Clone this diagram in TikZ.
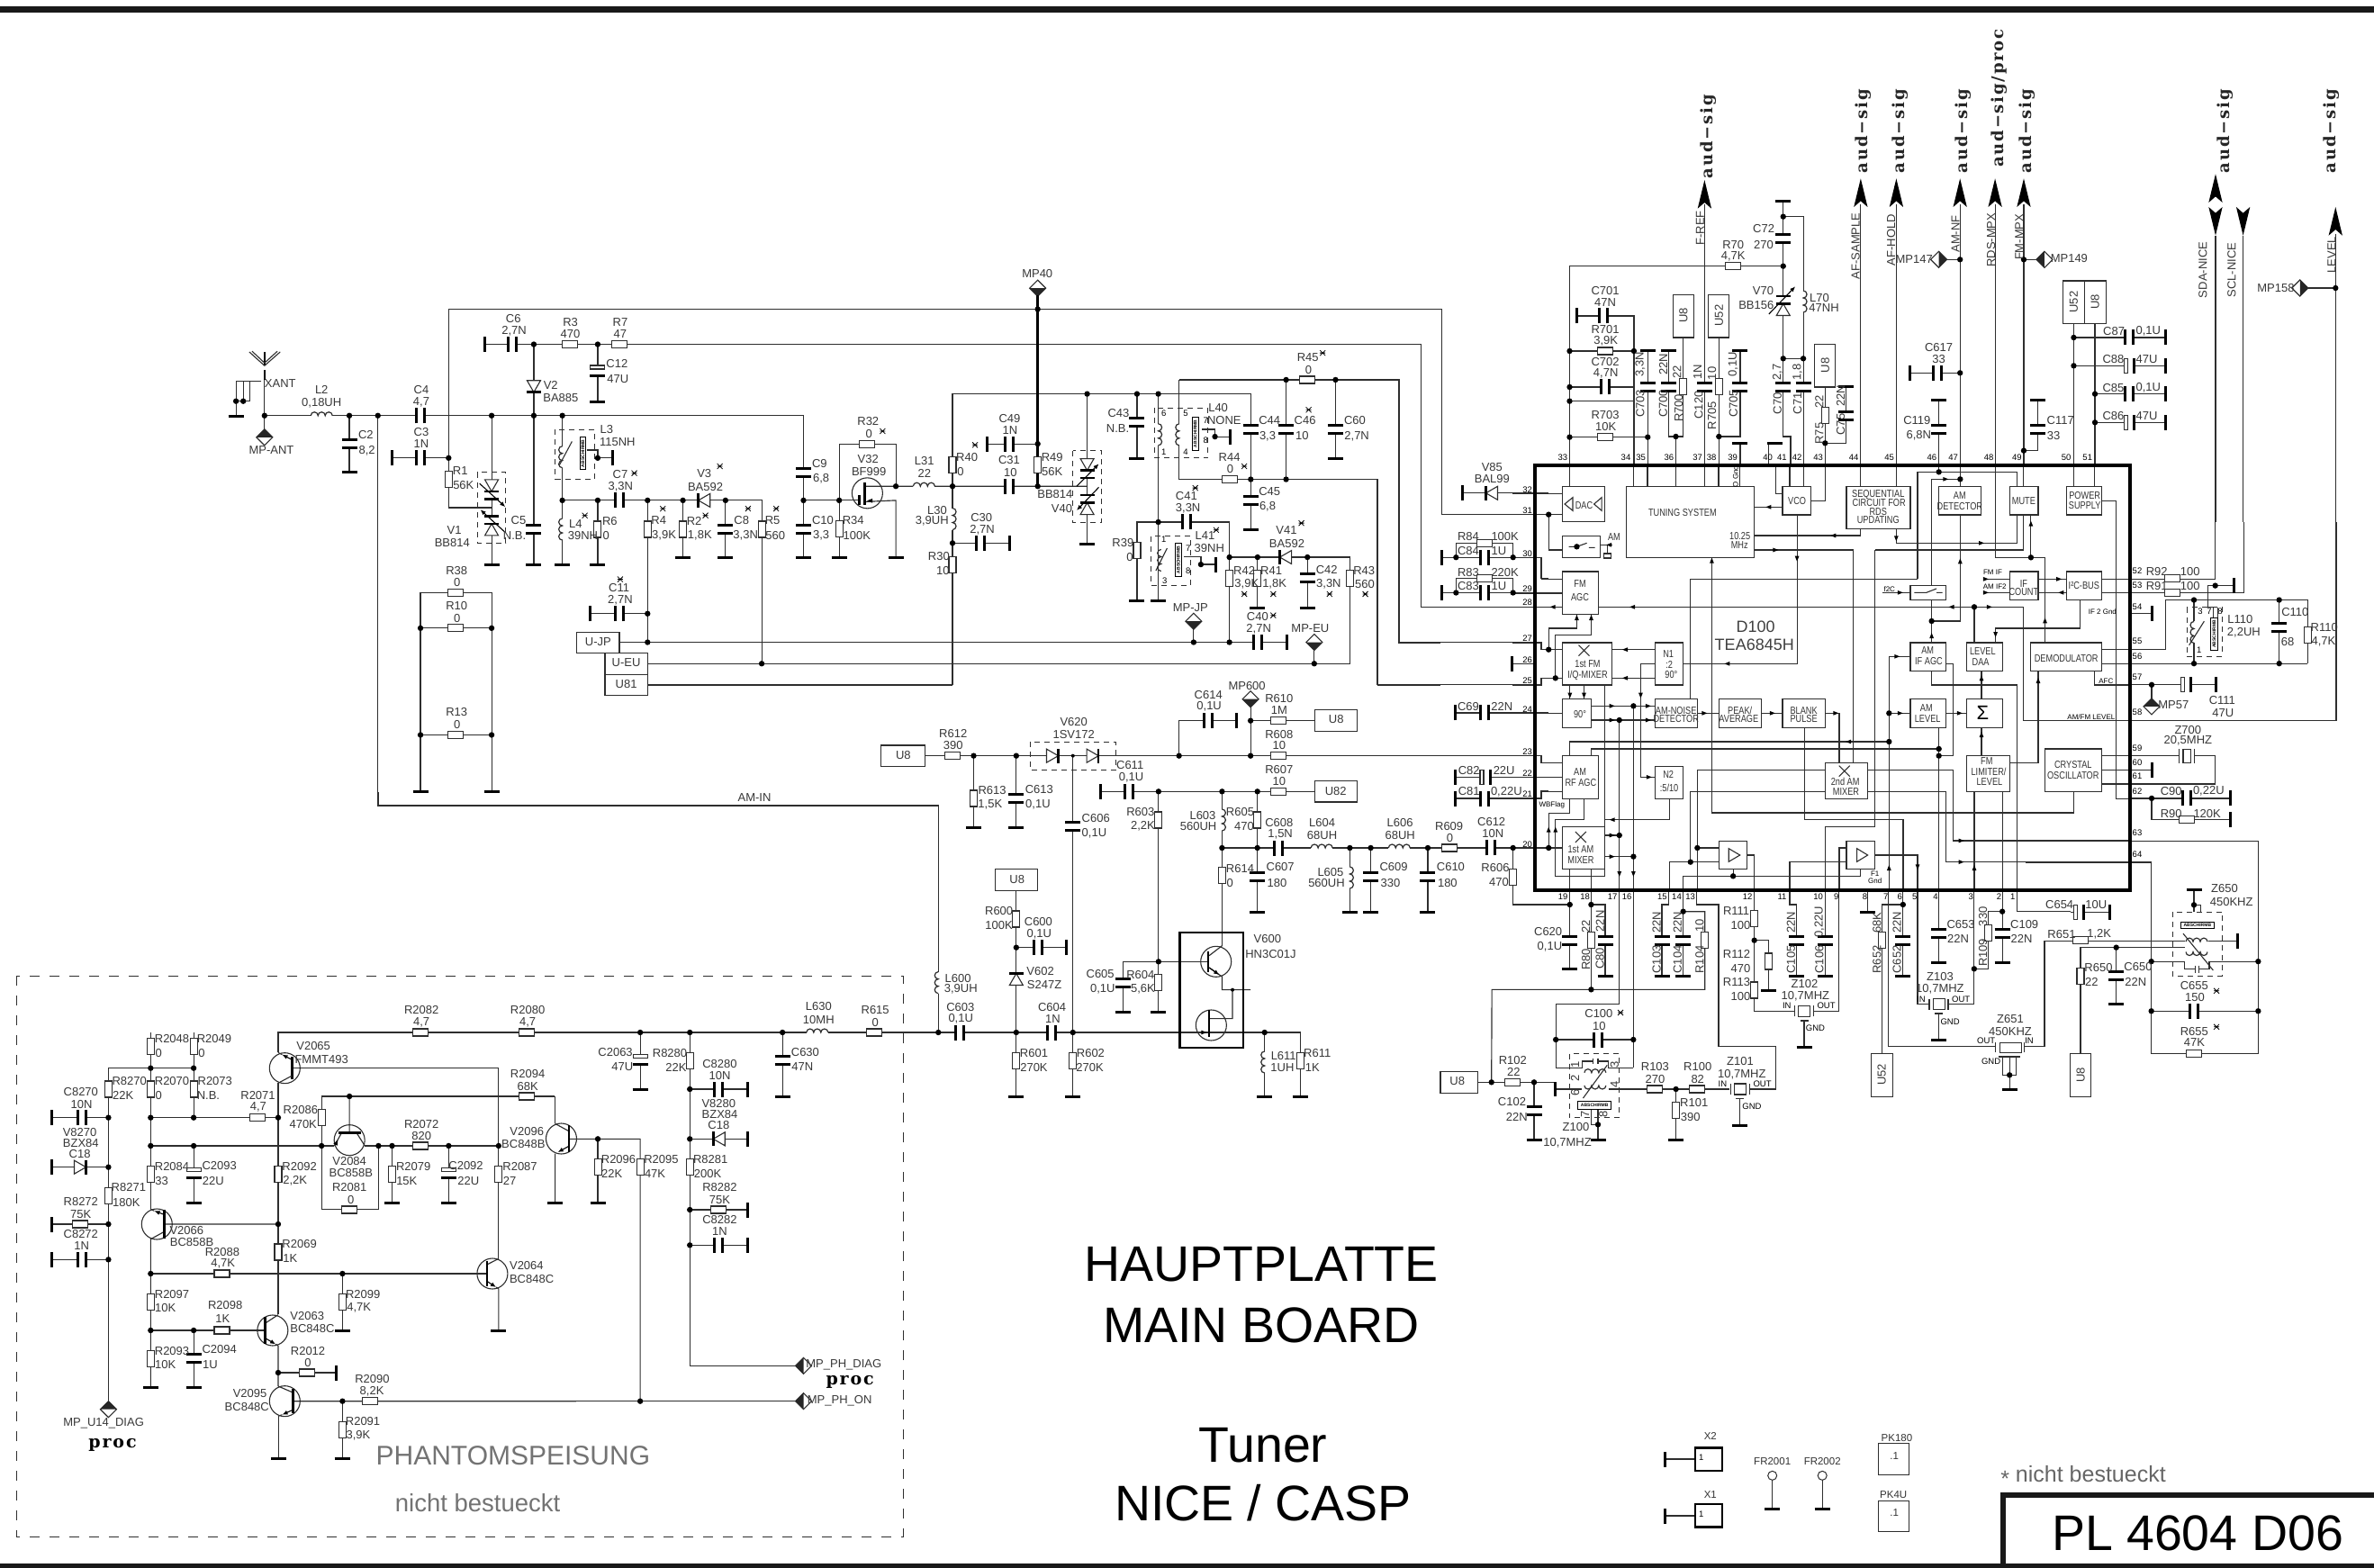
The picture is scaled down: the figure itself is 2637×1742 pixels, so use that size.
\documentclass[tikz,border=0pt]{standalone}
\usepackage{fontspec}
\setmainfont{Liberation Sans}
\newfontfamily\slab[LetterSpace=10]{DejaVu Serif}
\usetikzlibrary{arrows.meta,calc}
\colorlet{ink}{black!82}
\tikzset{
 wire/.style={draw=ink,line width=1.15pt,line join=miter},
 plate/.style={draw=black,line width=3pt},
 part/.style={draw=ink,line width=1.1pt,fill=white},
 dash box/.style={draw=ink,line width=1pt,dash pattern=on 6pt off 5pt},
 lab/.style={inner sep=0pt,font=\fontsize{13}{13}\selectfont,text=black!78},
 labp/.style={inner sep=0pt,font=\fontsize{9.5}{10}\selectfont,text=black},
 labq/.style={inner sep=0pt,font=\fontsize{11.5}{12}\selectfont,text=black!80},
 labb/.style={inner sep=0pt,font=\fontsize{11.5}{12}\selectfont,text=black!80,xscale=.8,transform shape},
 laba/.style={inner sep=0pt,font=\fontsize{8}{8}\selectfont,text=black},
 labs/.style={inner sep=0pt,font=\slab\bfseries\fontsize{18}{18}\selectfont,text=black!85},
 big/.style={inner sep=0pt,font=\fontsize{55.5}{56}\selectfont},
}
\def\PASS{1}
\newcommand\ifw[1]{\ifnum\PASS=1 #1\fi}
\newcommand\ifp[1]{\ifnum\PASS=2 #1\fi}
\newcommand\ift[1]{\ifnum\PASS=3 #1\fi}
\newcommand\wi[1]{\ifw{\draw[wire] #1;}}
\newcommand\tk[1]{\ifp{\draw[black,line width=2.6pt] #1;}}
\newcommand\tn[1]{\ifp{\draw[ink,line width=1.1pt] #1;}}
\newcommand\tx[3]{\ift{\node[lab] at (#1,#2) {#3};}}
\newcommand\txr[3]{\ift{\node[lab,rotate=90] at (#1,#2) {#3};}}
\newcommand\txp[3]{\ift{\node[labp] at (#1,#2) {#3};}}
\newcommand\txq[3]{\ift{\node[labq] at (#1,#2) {#3};}}
\newcommand\txb[3]{\ift{\node[labb] at (#1,#2) {#3};}}
\newcommand\txa[3]{\ift{\node[laba] at (#1,#2) {#3};}}
\newcommand\txs[3]{\ift{\node[labs,rotate=90] at (#1,#2) {#3};}}
\newcommand\dt[2]{\ifp{\fill[black] (#1,#2) circle[radius=3.2pt];}}
\newcommand\rh[2]{\ifp{\begin{scope}[shift={(#1,#2)},x=1pt,y=1pt]\draw[part] (-8.5,-4) rectangle (8.5,4);\end{scope}}}
\newcommand\rv[2]{\ifp{\begin{scope}[shift={(#1,#2)},x=1pt,y=1pt]\draw[part] (-4,-9) rectangle (4,9);\end{scope}}}
\newcommand\cv[2]{\ifp{\begin{scope}[shift={(#1,#2)},x=1pt,y=1pt]\fill[white] (-8,-4.5) rectangle (8,4.5);\draw[plate] (-8.5,4.5)--(8.5,4.5) (-8.5,-4.5)--(8.5,-4.5);\end{scope}}}
\newcommand\ch[2]{\ifp{\begin{scope}[shift={(#1,#2)},x=1pt,y=1pt]\fill[white] (-4.5,-8) rectangle (4.5,8);\draw[plate] (-4.5,-8.5)--(-4.5,8.5) (4.5,-8.5)--(4.5,8.5);\end{scope}}}
\newcommand\ev[2]{\ifp{\begin{scope}[shift={(#1,#2)},x=1pt,y=1pt]\fill[white] (-8,-6) rectangle (8,6);\draw[part] (-8,2) rectangle (8,6);\draw[plate] (-8.5,-5.5)--(8.5,-5.5);\end{scope}}}
\newcommand\eh[2]{\ifp{\begin{scope}[shift={(#1,#2)},x=1pt,y=1pt]\fill[white] (-6,-8) rectangle (6,8);\draw[part] (-6,-8) rectangle (-2,8);\draw[plate] (5.5,-8.5)--(5.5,8.5);\end{scope}}}
\newcommand\gh[2]{\ifp{\begin{scope}[shift={(#1,#2)},x=1pt,y=1pt]\draw[plate] (-8.5,0)--(8.5,0);\end{scope}}}
\newcommand\gv[2]{\ifp{\begin{scope}[shift={(#1,#2)},x=1pt,y=1pt]\draw[plate] (0,-8.5)--(0,8.5);\end{scope}}}
\newcommand\lh[2]{\ifp{\begin{scope}[shift={(#1,#2)},x=1pt,y=1pt]\draw[white,line width=2pt] (-12,0)--(12,0);\draw[ink,line width=1.2pt] (-12,0) arc[start angle=180,end angle=0,radius=4] arc[start angle=180,end angle=0,radius=4] arc[start angle=180,end angle=0,radius=4];\end{scope}}}
\newcommand\lhi[2]{\ifp{\begin{scope}[shift={(#1,#2)},x=1pt,y=1pt]\draw[white,line width=2pt] (-12,0)--(12,0);\draw[ink,line width=1.2pt] (-12,0) arc[start angle=180,end angle=360,radius=4] arc[start angle=180,end angle=360,radius=4] arc[start angle=180,end angle=360,radius=4];\end{scope}}}
\newcommand\lv[2]{\ifp{\begin{scope}[shift={(#1,#2)},x=1pt,y=1pt]\draw[white,line width=2pt] (0,-12)--(0,12);\draw[ink,line width=1.2pt] (0,12) arc[start angle=90,end angle=270,radius=4] arc[start angle=90,end angle=270,radius=4] arc[start angle=90,end angle=270,radius=4];\end{scope}}}
\newcommand\lr[2]{\ifp{\begin{scope}[shift={(#1,#2)},x=1pt,y=1pt]\draw[white,line width=2pt] (0,-12)--(0,12);\draw[ink,line width=1.2pt] (0,12) arc[start angle=90,end angle=-90,radius=4] arc[start angle=90,end angle=-90,radius=4] arc[start angle=90,end angle=-90,radius=4];\end{scope}}}
\newcommand\dd[3]{\ifp{\begin{scope}[shift={(#1,#2)},x=1pt,y=1pt,rotate=#3]\draw[part] (-6.5,-7.5)--(6.5,0)--(-6.5,7.5)--cycle;\draw[black,line width=2.6pt] (6.5,-8)--(6.5,8);\end{scope}}}
\newcommand\vc[3]{\ifp{\begin{scope}[shift={(#1,#2)},x=1pt,y=1pt,rotate=#3]\fill[white] (6,-8) rectangle (15,8);\draw[part] (-6.5,-7.5)--(6.5,0)--(-6.5,7.5)--cycle;\draw[black,line width=2.6pt] (6.5,-8)--(6.5,8) (15,-8)--(15,8);\end{scope}}}
\newcommand\xm[2]{\ifp{\begin{scope}[shift={(#1,#2)},x=1pt,y=1pt]\draw[black,line width=.8pt] (-3,-3)--(3,3) (-3,3)--(3,-3) (-3,0)--(3,0);\end{scope}}}
\newcommand\crs[2]{\ifp{\begin{scope}[shift={(#1,#2)},x=1pt,y=1pt]\draw[ink,line width=1pt] (-6,-6)--(6,6) (-6,6)--(6,-6);\end{scope}}}
\newcommand\arr[3]{\ifp{\begin{scope}[shift={(#1,#2)},x=1pt,y=1pt,rotate=#3]\fill[black] (3,0)--(-3,2.4)--(-3,-2.4)--cycle;\end{scope}}}
\newcommand\dm[3]{\ifp{\begin{scope}[shift={(#1,#2)},x=1pt,y=1pt,rotate=#3]\draw[part] (-9,0)--(0,9)--(9,0)--(0,-9)--cycle;\fill[black!85] (-9,0)--(0,9)--(9,0)--cycle;\end{scope}}}
\newcommand\bx[4]{\ifp{\draw[part] (#1,#2) rectangle (#3,#4);}}
\newcommand\ds[4]{\ifp{\draw[dash box] (#1,#2) rectangle (#3,#4);}}
\newcommand\xt[2]{\ifp{\begin{scope}[shift={(#1,#2)},x=1pt,y=1pt]\draw[part] (-6.5,-6) rectangle (6.5,6);\draw[ink,line width=1.2pt] (-10.5,-6)--(-10.5,6) (10.5,-6)--(10.5,6);\end{scope}}}
\newcommand\qc[2]{\ifp{\begin{scope}[shift={(#1,#2)},x=1pt,y=1pt]\draw[ink,line width=1.1pt] (0,0) circle[radius=17];\end{scope}}}
\newcommand\arw[2]{\ifp{\draw[black,line width=1.1pt,-{Latex[length=6pt,width=5pt]}] #1 -- #2;}}
\newcommand\upa[2]{\ifp{\fill[black] (#1,#2)--(#1+12,#2+95)--(#1,#2+75)--(#1-12,#2+95)--cycle;}}
\newcommand\dna[2]{\ifp{\fill[black] (#1,#2)--(#1+12,#2-95)--(#1,#2-75)--(#1-12,#2-95)--cycle;}}
\newcommand\shv[4]{\ifp{\draw[black,line width=1pt,fill=white] (#1,#2) rectangle (#3,#4);}\ift{\node[inner sep=0pt,font=\fontsize{5}{5}\selectfont\bfseries,rotate=90] at ($0.5*(#1,#2)+0.5*(#3,#4)$) {ABSCHIRMB};}}
\newcommand\shh[4]{\ifp{\draw[black,line width=1pt,fill=white] (#1,#2) rectangle (#3,#4);}\ift{\node[inner sep=0pt,font=\fontsize{5}{5}\selectfont\bfseries] at ($0.5*(#1,#2)+0.5*(#3,#4)$) {ABSCHIRMB};}}

\newcommand\Body{%
\wi{(420,880)--(420,895)--(940,895)}
\tx{838}{886}{AM-IN}
\ifp{\draw[ink,line width=1pt,dash pattern=on 11pt off 11pt] (18,1084) rectangle (1003,1707);}

%================ Z1
\begin{scope}[xshift=230pt,yshift=-280pt,x=.44643pt,y=-.38265pt]
\wi{(143,372)--(143,517) (143,475)--(1484,475)--(1484,721)--(1568,721) (1484,721)--(1484,887)}
\tk{(143,290)--(143,330) (143,342)--(143,372)}
\tn{(105,290)--(143,330)--(182,290) (112,288)--(143,322)--(175,288)}
\wi{(135,375)--(72,375)--(72,477) (90,375)--(90,433) (107,375)--(107,433) (72,433)--(107,433)}
\dt{72}{433}\dt{90}{433}\gh{72}{477}
\tx{182}{382}{XANT}\dt{143}{475}\dm{143}{538}{0}\tx{160}{575}{MP-ANT}
\lh{285}{475}\tx{285}{400}{L2}\tx{285}{438}{0,18UH}
\dt{354}{475}\wi{(354,475)--(354,640)}\cv{354}{557}\gh{354}{640}\tx{395}{530}{C2}\tx{398}{576}{8,2}
\dt{425}{475}\wi{(425,475)--(425,1568)}
\ch{530}{475}\tx{533}{400}{C4}\tx{533}{436}{4,7}
\wi{(460,598)--(601,598)}\gv{460}{598}\ch{530}{598}\dt{601}{598}\tx{533}{523}{C3}\tx{533}{558}{1N}
\wi{(1568,166)--(601,166)--(601,742)--(708,742)}\rv{601}{660}\tx{630}{636}{R1}\tx{638}{678}{56K}
\wi{(708,475)--(708,908)}\dt{708}{475}\gh{708}{908}
\ds{672}{640}{743}{845}
\vc{708}{678}{-90}\vc{708}{806}{90}
\arw{(678,672)}{(742,740)}\arw{(740,812)}{(680,748)}
\tx{615}{808}{V1}\tx{610}{845}{BB814}
\wi{(813,268)--(813,908)}\dt{813}{268}\dt{813}{475}\cv{813}{805}\gh{813}{908}\dd{813}{390}{-90}
\tx{775}{778}{C5}\tx{765}{822}{N.B.}\tx{855}{387}{V2}\tx{880}{424}{BA885}
\wi{(690,268)--(1568,268)}\gv{690}{268}\ch{760}{268}\tx{762}{194}{C6}\tx{764}{229}{2,7N}
\rh{902}{268}\tx{904}{204}{R3}\tx{904}{238}{470}\dt{972}{268}\rh{1025}{268}\tx{1028}{204}{R7}\tx{1028}{238}{47}
\wi{(972,268)--(972,435)}\ev{972}{345}\gh{972}{435}\tx{1020}{325}{C12}\tx{1022}{369}{47U}
\dt{884}{475}\wi{(884,475)--(884,908)}\gh{884}{908}
\ds{866}{516}{964}{660}\lv{884}{595}\tn{(876,620)--(908,550)}
\shv{928}{538}{942}{632}
\wi{(945,575)--(972,575)--(972,598)--(1010,598)}\dt{972}{598}\gv{1010}{598}
\tx{994}{514}{L3}\tx{1021}{552}{115NH}
\lv{884}{805}\tx{917}{790}{L4}\tx{935}{822}{39NH}\xm{940}{765}
\dt{884}{721}\wi{(884,721)--(1380,721)--(1380,1195)}
\ch{1025}{721}\tx{1028}{646}{C7}\tx{1029}{682}{3,3N}\xm{1063}{642}
\dt{972}{721}\wi{(972,721)--(972,908)}\rv{972}{805}\gh{972}{908}\tx{1002}{782}{R6}\tx{993}{822}{0}
\dt{1096}{721}\wi{(1096,721)--(1096,1133)}\rv{1096}{805}\tx{1124}{780}{R4}\tx{1137}{822}{3,9K}\xm{1134}{745}
\dt{1184}{721}\wi{(1184,721)--(1184,887)}\rv{1184}{805}\gh{1184}{887}\tx{1212}{782}{R2}\tx{1226}{822}{1,8K}\xm{1240}{765}
\dd{1237}{721}{180}\tx{1237}{643}{V3}\tx{1240}{682}{BA592}\xm{1276}{622}
\dt{1290}{721}\wi{(1290,721)--(1290,887)}\cv{1290}{805}\gh{1290}{887}\tx{1330}{778}{C8}\tx{1340}{822}{3,3N}\xm{1346}{745}
\rv{1380}{805}\tx{1407}{780}{R5}\tx{1414}{822}{560}\xm{1416}{745}
\dt{1380}{1195}\dt{1484}{721}
\cv{1484}{640}\cv{1484}{805}\gh{1484}{887}\tx{1524}{613}{C9}\tx{1528}{658}{6,8}\tx{1532}{778}{C10}\tx{1528}{822}{3,3}
\wi{(953,1050)--(1096,1050)}\gv{953}{1050}\ch{1025}{1050}\dt{1096}{1050}\tx{1025}{976}{C11}\tx{1028}{1012}{2,7N}\xm{1028}{950}
\bx{919}{1103}{1026}{1165}\tx{973}{1133}{U-JP}\wi{(1026,1133)--(1568,1133)}\dt{1096}{1133}
\bx{990}{1165}{1096}{1227}\tx{1043}{1193}{U-EU}\wi{(1096,1195)--(1568,1195)}
\bx{990}{1227}{1096}{1288}\tx{1043}{1254}{U81}\wi{(1096,1257)--(1568,1257)}
\wi{(531,1567)--(531,990)--(708,990)--(708,1567) (531,1092)--(708,1092) (531,1402)--(708,1402)}
\rh{619}{990}\rh{619}{1092}\rh{619}{1402}\dt{531}{1092}\dt{708}{1092}\dt{531}{1402}\dt{708}{1402}\gh{531}{1567}\gh{708}{1567}
\tx{621}{926}{R38}\tx{622}{960}{0}\tx{621}{1028}{R10}\tx{622}{1063}{0}\tx{621}{1336}{R13}\tx{622}{1371}{0}
\end{scope}

%================ Z2
\begin{scope}[xshift=900pt,yshift=-280pt,x=.44643pt,y=-.38265pt]
\wi{(0,166)--(1568,166)}
\wi{(0,268)--(1520,268)--(1520,1030)--(1568,1030)}
\dm{566}{105}{180}\tx{565}{63}{MP40}\dt{566}{166}\tk{(566,125)--(566,680)}\dt{566}{557}\dt{566}{680}
\rv{566}{618}\tx{602}{596}{R49}\tx{602}{637}{56K}
\wi{(0,721)--(118,721) (72,721)--(72,557)--(213,557)--(213,680) (72,721)--(72,887)}\dt{72}{721}
\rh{142}{557}\tx{144}{492}{R32}\tx{146}{528}{0}\xm{180}{520}\dt{213}{680}
\wi{(136,680)--(690,680) (136,725)--(213,721)--(213,887)}\gh{213}{887}\gh{72}{887}
\qc{142}{700}\tk{(135,670)--(135,735)}\tk{(122,705)--(122,735)}\arr{148}{722}{180}
\tx{144}{600}{V32}\tx{146}{637}{BF999}
\rv{72}{803}\tx{107}{780}{R34}\tx{116}{822}{100K}
\lh{283}{680}\tx{284}{606}{L31}\tx{284}{644}{22}
\dt{354}{680}\wi{(354,1257)--(354,412)--(1096,412)--(1096,805)}
\rv{354}{618}\tx{390}{595}{R40}\tx{374}{637}{0}\xm{410}{560}
\lr{354}{775}\tx{316}{750}{L30}\tx{303}{782}{3,9UH}\dt{354}{845}
\wi{(354,845)--(497,845)}\ch{423}{845}\gv{497}{845}\tx{426}{770}{C30}\tx{428}{806}{2,7N}
\rv{354}{907}\tx{320}{884}{R30}\tx{330}{925}{10}
\wi{(0,1257)--(354,1257)}
\wi{(440,557)--(566,557)}\gv{440}{557}\ch{495}{557}\tx{496}{483}{C49}\tx{497}{517}{1N}
\ch{495}{680}\tx{495}{605}{C31}\tx{498}{640}{10}
\wi{(689,412)--(689,847)}\dt{689}{412}\gh{689}{847}\ds{654}{577}{725}{785}
\vc{689}{617}{-90}\vc{689}{745}{90}
\arw{(663,680)}{(718,615)}\arw{(718,683)}{(663,750)}
\tx{609}{702}{BB814}\tx{626}{745}{V40}
\wi{(813,412)--(813,600)}\dt{813}{412}\cv{813}{495}\gh{813}{600}\tx{767}{468}{C43}\tx{765}{513}{N.B.}
\dt{866}{412}\wi{(866,412)--(866,1012)}\gh{866}{1012}
\ds{857}{453}{990}{598}\lr{866}{530}\wi{(918,371)--(918,660)}\lv{918}{530}
\shv{950}{480}{966}{575}\wi{(975,515)--(1007,515)--(1007,536)--(1044,536)}\dt{1007}{536}\gv{1044}{536}
\txp{880}{468}{6}\txp{934}{468}{5}\txp{984}{490}{7}\txp{984}{548}{8}\txp{880}{580}{1}\txp{934}{580}{4}
\tx{1015}{452}{L40}\tx{1030}{489}{NONE}
\cv{1096}{515}\dt{1096}{660}\tx{1143}{489}{C44}\tx{1138}{534}{3,3}
\wi{(918,660)--(1413,660)--(1413,1257)--(1568,1257)}\rh{1043}{660}\tx{1043}{595}{R44}\tx{1045}{630}{0}\xm{1080}{622}\dt{1184}{660}
\cv{1096}{722}\gh{1096}{805}\tx{1143}{695}{C45}\tx{1138}{740}{6,8}
\wi{(918,371)--(1465,371)--(1465,1134)--(1568,1134)}\dt{1184}{371}\dt{1307}{371}\rh{1237}{371}\tx{1238}{306}{R45}\tx{1240}{342}{0}\xm{1275}{293}
\wi{(1184,371)--(1184,660)}\cv{1184}{515}\tx{1231}{489}{C46}\tx{1224}{534}{10}\xm{1240}{458}
\wi{(1307,371)--(1307,600)}\cv{1307}{515}\gh{1307}{600}\tx{1355}{489}{C60}\tx{1360}{534}{2,7N}
\dt{866}{784}\wi{(813,1012)--(813,784)--(1043,784)--(1043,1133)}\ch{937}{784}\gh{813}{1012}\rv{813}{866}
\tx{778}{844}{R39}\tx{795}{885}{0}\tx{936}{708}{C41}\tx{940}{744}{3,3N}\xm{958}{685}
\ds{848}{825}{946}{968}\lv{873}{895}\tn{(860,925)--(888,860)}
\shv{908}{845}{924}{942}\wi{(930,885)--(972,885)--(972,907)--(1008,907)}\dt{972}{907}\gv{1008}{907}
\txp{880}{835}{1}\txp{940}{860}{7}\txp{940}{925}{8}\txp{882}{955}{3}
\tx{982}{822}{L41}\tx{993}{860}{39NH}\xm{1010}{807}
\dt{1043}{886}\wi{(1043,886)--(1343,886)--(1343,1195)}\dt{1113}{886}
\rv{1043}{947}\wi{(1113,886)--(1113,1033)}\rv{1113}{947}\gh{1113}{1033}
\tx{1080}{925}{R42}\tx{1086}{965}{3,9K}\xm{1080}{993}\tx{1147}{925}{R41}\tx{1155}{965}{1,8K}\xm{1152}{993}
\dd{1183}{886}{180}\tx{1185}{808}{V41}\tx{1186}{846}{BA592}\xm{1222}{787}
\dt{1237}{886}\wi{(1237,886)--(1237,1033)}\cv{1237}{947}\gh{1237}{1033}\tx{1285}{922}{C42}\tx{1290}{965}{3,3N}\xm{1292}{993}
\rv{1343}{947}\tx{1378}{925}{R43}\tx{1380}{965}{560}\xm{1381}{993}
\dm{954}{1072}{180}\wi{(954,1090)--(954,1133)}\dt{954}{1133}\tx{946}{1033}{MP-JP}
\wi{(0,1133)--(1186,1133)}\ch{1113}{1133}\gv{1186}{1133}\dt{1043}{1133}\tx{1113}{1058}{C40}\tx{1116}{1094}{2,7N}\xm{1152}{1055}
\dm{1254}{1133}{180}\wi{(1254,1150)--(1254,1195)}\dt{1254}{1195}\tx{1244}{1093}{MP-EU}
\wi{(0,1195)--(1343,1195)}
\end{scope}

%================ Z11
\begin{scope}[xshift=1530pt,yshift=-300pt,x=.33333pt,y=-.44643pt]
\wi{(0,97)--(215,97)--(215,609)--(570,609)}
\wi{(0,185)--(145,185)--(145,838)--(570,838)}
\wi{(0,273)--(73,273)--(73,927)--(545,927)--(545,945)--(570,945)}
\wi{(0,520)--(0,1032)--(545,1032)--(545,1015)--(570,1015)}
\wi{(282,555)--(570,555)}\gv{282}{555}\dd{381}{555}{180}\tx{382}{490}{V85}\tx{382}{520}{BAL99}
\wi{(213,715)--(452,715)--(545,715)--(545,768)--(570,768) (262,715)--(262,680)--(452,680)--(452,715)}
\gv{213}{715}\dt{262}{715}\dt{452}{715}\ch{357}{715}\rh{357}{680}
\tx{303}{664}{R84}\tx{425}{664}{100K}\tx{303}{698}{C84}\tx{405}{698}{1U}
\wi{(213,803)--(570,803) (262,803)--(262,768)--(452,768)--(452,803)}
\gv{213}{803}\dt{262}{803}\dt{452}{803}\ch{357}{803}\rh{357}{768}
\tx{303}{752}{R83}\tx{425}{752}{220K}\tx{303}{786}{C83}\tx{405}{786}{1U}
\wi{(448,980)--(522,980)}\gv{448}{980}
\wi{(260,1102)--(570,1102)}\gv{260}{1102}\ch{357}{1102}\tx{303}{1087}{C69}\tx{415}{1087}{22N}
\wi{(0,1208)--(545,1208)--(545,1226)--(570,1226)}
\wi{(260,1262)--(570,1262)}\gv{260}{1262}\eh{360}{1262}\tx{305}{1245}{C82}\tx{422}{1245}{22U}
\wi{(260,1315)--(545,1315)--(545,1297)--(570,1297)}\gv{260}{1315}\ch{357}{1315}\tx{305}{1298}{C81}\tx{430}{1298}{0,22U}
\wi{(330,1438)--(570,1438) (452,1438)--(452,1568)}\ch{378}{1438}\dt{452}{1438}\rv{452}{1510}\tx{380}{1373}{C612}\tx{385}{1403}{10N}\tx{393}{1488}{R606}\tx{405}{1523}{470}
\txp{500}{546}{32}\txp{500}{598}{31}\txp{500}{705}{30}\txp{500}{793}{29}\txp{500}{828}{28}\txp{500}{917}{27}\txp{500}{970}{26}\txp{500}{1022}{25}\txp{500}{1094}{24}\txp{500}{1198}{23}\txp{500}{1252}{22}\txp{500}{1305}{21}\txp{500}{1430}{20}
\end{scope}

%================ Z3
\begin{scope}[xshift=1600pt,yshift=0pt,x=.63776pt,y=-.33333pt]
\foreach \xa in {460,732,794,905,966,1016}{\wi{(\xa,680)--(\xa,1553)}}
\upa{460}{600}\upa{732}{595}\upa{794}{595}\upa{905}{595}\upa{966}{595}\upa{1016}{595}
\upa{1350}{580}\dna{1350}{785}\dna{1398}{785}\upa{1559}{690}
\wi{(1350,785)--(1350,1740) (1398,785)--(1398,1740) (1559,780)--(1559,1740)}
\txs{467}{455}{aud−sig}\txs{737}{437}{aud−sig}\txs{800}{437}{aud−sig}\txs{911}{437}{aud−sig}\txs{973}{327}{aud−sig/proc}\txs{1022}{437}{aud−sig}\txs{1366}{437}{aud−sig}\txs{1551}{437}{aud−sig}
\txr{452}{760}{F-REF}\txr{723}{820}{AF-SAMPLE}\txr{785}{800}{AF-HOLD}\txr{897}{780}{AM-NF}\txr{959}{800}{RDS-MPX}\txr{1008}{790}{FM-MPX}\txr{1328}{900}{SDA-NICE}\txr{1378}{900}{SCL-NICE}\txr{1552}{850}{LEVEL}
\dm{868}{865}{-90}\wi{(868,865)--(905,865)}\dt{905}{865}\tx{825}{865}{MP147}
\dm{1052}{865}{90}\wi{(1016,865)--(1052,865)}\dt{1016}{865}\tx{1095}{862}{MP149}
\dm{1497}{960}{-90}\wi{(1497,960)--(1559,960)}\dt{1559}{960}\tx{1455}{960}{MP158}
\wi{(225,1553)--(225,887)--(597,887)}\rh{510}{887}\tx{510}{815}{R70}\tx{510}{855}{4,7K}\dt{597}{887}
\gh{597}{672}\wi{(597,672)--(597,1455)--(610,1455)--(610,1553) (597,722)--(632,722)--(632,1553)}\dt{597}{722}
\cv{597}{794}\tx{563}{763}{C72}\tx{563}{815}{270}
\vc{597}{1032}{90}\arw{(572,1047)}{(618,955)}\tx{562}{968}{V70}\tx{550}{1016}{BB156}
\lr{632}{1005}\tx{660}{992}{L70}\tx{668}{1027}{47NH}
\dt{597}{1195}\dt{632}{1195}\wi{(597,1195)--(632,1195)}
\cv{597}{1290}\cv{632}{1290}\txr{587}{1240}{2,7}\txr{587}{1345}{C70}\txr{622}{1240}{1,8}\txr{622}{1345}{C71}
\gh{583}{1477}\wi{(572,1477)--(572,1553)}
\wi{(485,1553)--(485,1125) (485,1455)--(522,1455)--(522,1170) (522,1477)--(522,1553)}
\bx{466}{982}{503}{1125}\txr{485}{1052}{U52}\dt{485}{1455}\rv{485}{1288}\cv{522}{1290}\gh{522}{1170}\gh{522}{1477}
\txr{473}{1245}{10}\txr{473}{1385}{R705}\txr{510}{1215}{0,1U}\txr{510}{1345}{C705}
\bx{405}{982}{441}{1125}\txr{423}{1052}{U8}\wi{(423,1125)--(423,1455)--(398,1455)--(398,1170) (410,1455)--(410,1553)}\dt{410}{1455}
\rv{423}{1288}\cv{398}{1290}\gh{398}{1170}\txr{388}{1215}{22N}\txr{388}{1345}{C700}\txr{412}{1240}{22}\txr{415}{1360}{R700}
\wi{(361,1170)--(361,1553)}\gh{361}{1170}\cv{361}{1290}\dt{361}{1457}\txr{348}{1215}{3,3N}\txr{348}{1345}{C703}
\cv{460}{1290}\txr{448}{1240}{1N}\txr{450}{1350}{C120}
\wi{(237,1053)--(337,1053)--(337,1553)}\gv{237}{1053}\ch{283}{1053}\tx{287}{968}{C701}\tx{287}{1008}{47N}
\wi{(225,1170)--(337,1170)}\dt{225}{1170}\dt{337}{1170}\rh{287}{1170}\tx{287}{1097}{R701}\tx{288}{1137}{3,9K}
\wi{(225,1290)--(337,1290)}\dt{225}{1290}\ch{287}{1290}\tx{287}{1205}{C702}\tx{288}{1245}{4,7N}
\wi{(225,1337)--(337,1337)}\dt{225}{1337}
\wi{(225,1457)--(361,1457)}\dt{225}{1457}\rh{287}{1457}\tx{287}{1382}{R703}\tx{288}{1422}{10K}
\wi{(670,1553)--(670,1290) (670,1477)--(707,1477)--(707,1290)}\bx{652}{1148}{688}{1290}\txr{670}{1218}{U8}
\rv{670}{1385}\dt{670}{1477}\cv{707}{1385}\gh{707}{1290}\txr{660}{1340}{22}\txr{660}{1445}{R75}\txr{697}{1320}{22N}\txr{697}{1415}{C75}
\dt{905}{1243}\wi{(817,1243)--(905,1243)}\gv{817}{1243}\ch{866}{1243}\tx{868}{1157}{C617}\tx{868}{1197}{33}
\wi{(868,1335)--(868,1553)}\gh{868}{1335}\cv{868}{1432}\tx{830}{1402}{C119}\tx{833}{1452}{6,8N}
\wi{(1040,1335)--(1040,1502)--(1016,1502)}\gh{1040}{1335}\dt{1016}{1502}\cv{1040}{1432}\tx{1080}{1402}{C117}\tx{1068}{1452}{33}
\bx{1084}{936}{1122}{1078}\bx{1122}{936}{1159}{1078}\txr{1103}{1007}{U52}\txr{1140}{1007}{U8}
\wi{(1103,1078)--(1103,1553) (1140,1078)--(1140,1553)}\dt{1103}{1125}\dt{1103}{1219}\dt{1140}{1313}\dt{1140}{1408}
\wi{(1103,1125)--(1263,1125)}\ch{1200}{1125}\gv{1263}{1125}\tx{1173}{1103}{C87}\tx{1233}{1103}{0,1U}
\wi{(1103,1219)--(1263,1219)}\eh{1200}{1219}\gv{1263}{1219}\tx{1172}{1197}{C88}\tx{1230}{1197}{47U}
\wi{(1140,1313)--(1263,1313)}\ch{1200}{1313}\gv{1263}{1313}\tx{1172}{1292}{C85}\tx{1233}{1292}{0,1U}
\wi{(1140,1408)--(1263,1408)}\eh{1200}{1408}\gv{1263}{1408}\tx{1172}{1385}{C86}\tx{1230}{1385}{47U}
\txp{213}{1525}{33}\txp{323}{1525}{34}\txp{349}{1525}{35}\txp{398}{1525}{36}\txp{448}{1525}{37}\txp{472}{1525}{38}\txp{509}{1525}{39}\txp{570}{1525}{40}\txp{595}{1525}{41}\txp{621}{1525}{42}\txp{658}{1525}{43}\txp{720}{1525}{44}\txp{782}{1525}{45}\txp{856}{1525}{46}\txp{893}{1525}{47}\txp{955}{1525}{48}\txp{1004}{1525}{49}\txp{1090}{1525}{50}\txp{1127}{1525}{51}
\end{scope}

%================ Z4 IC
\begin{scope}[xshift=1680pt,yshift=-500pt,x=.44643pt,y=-.33333pt]
\ifp{\draw[black,line width=4pt] (56,52) rectangle (1537,1467);}
\foreach \xa in {143,301,336,407,478,513,566,690,725,866,955,1114,1272,1396,1449}{\wi{(\xa,52)--(\xa,122)}}
\wi{(655,52)--(655,145)--(672,145) (778,52)--(778,169)--(743,169) (1061,52)--(1061,73)}
\wi{(1202,52)--(1202,358)--(1325,358)--(1325,642) (1290,358)--(1290,216)}\dt{1290}{358}\arr{1290}{245}{90}\arr{1325}{568}{90}
\wi{(1008,430)--(1008,73)--(1255,73)--(1255,310)--(955,310)--(955,263)}\dt{1061}{73}\arr{955}{295}{-90}\arr{1167}{310}{0}
\wi{(1008,430)--(443,430)--(443,830)}
\wi{(1043,452)--(1043,97)--(1114,97)}\dt{1114}{97}\arr{1078}{97}{0}
\wi{(1043,500)--(1043,642) (1043,570)--(1114,570)--(1114,216)}\dt{1043}{570}\arr{1114}{370}{90}\arr{1043}{618}{90}
\wi{(602,285)--(866,285)--(866,263)}\arr{798}{285}{180}
\wi{(602,333)--(848,333)--(848,1043)}\arr{655}{333}{0}
\wi{(672,190)--(602,190)}\arr{637}{190}{180}
\wi{(708,216)--(708,712)--(425,712)}\arr{708}{362}{-90}\arr{534}{712}{180}
\wi{(496,358)--(496,1209)--(1396,1209)--(1396,1138)}\arr{496}{368}{90}
\wi{(902,333)--(1272,333)--(1272,216) (902,333)--(902,1255)--(778,1255)--(778,1467)}
\wi{(390,1162)--(390,1232)--(230,1232)}\arr{248}{1232}{180}
\wi{(726,925)--(726,1232)--(972,1232)--(972,1467)}
\wi{(1308,430)--(1378,430) (1378,475)--(1308,475) (1175,430)--(1237,430) (1175,475)--(1237,475)}\arr{1360}{430}{0}\arr{1365}{475}{180}\arr{1178}{430}{0}\arr{1178}{475}{0}
\wi{(1413,500)--(1413,594)--(1202,594)--(1202,642)}\arr{1202}{615}{-90}
\wi{(0,523)--(125,523)}\arr{100}{523}{180}
\wi{(213,523)--(1272,523)--(1272,902)--(1537,902)}\arr{298}{523}{180}\arr{1092}{523}{180}\arr{1187}{523}{0}\dt{1149}{523}
\wi{(1149,523)--(1149,642) (920,475)--(990,475)}\arr{965}{475}{0}
\wi{(160,547)--(160,594)--(90,594)--(90,665) (196,547)--(196,617)--(107,617)--(107,760)}\arr{160}{558}{90}\arr{196}{558}{90}
\wi{(0,642)--(72,642)--(72,665)--(125,665) (0,783)--(72,783)--(72,760)--(125,760)}\dt{90}{665}\dt{107}{760}
\wi{(248,665)--(354,665) (248,760)--(354,760)}\arr{280}{665}{180}\arr{280}{760}{180}
\wi{(354,712)--(319,712)--(319,1090)--(354,1090)}\arr{319}{818}{-90}\arr{340}{1090}{0}
\wi{(143,783)--(143,830) (178,783)--(178,830)}\arr{143}{818}{-90}\arr{178}{818}{-90}
\wi{(0,877)--(125,877)}
\wi{(195,853)--(354,853) (195,900)--(354,900) (301,853)--(301,1467) (266,900)--(266,1467)}\dt{301}{853}\dt{266}{900}\dt{266}{1284}\dt{301}{1355}
\arr{248}{853}{0}\arr{338}{853}{0}\arr{248}{900}{0}\arr{338}{900}{0}\arr{266}{1413}{-90}\arr{301}{1413}{-90}
\wi{(230,783)--(230,1420)--(107,1420)--(107,1232)--(178,1232)--(178,1162)}\arr{107}{1265}{90}\arr{90}{1265}{90}
\wi{(143,1162)--(143,1210)--(90,1210)--(90,1326) (0,1326)--(125,1326)}\dt{90}{1326}
\wi{(230,1284)--(266,1284) (230,1355)--(301,1355)}\arr{248}{1284}{0}\arr{248}{1355}{0}
\wi{(143,1397)--(143,1467) (196,1397)--(196,1467)}
\wi{(0,1019)--(72,1019)--(72,1043)--(125,1043) (0,1090)--(125,1090) (0,1162)--(72,1162)--(72,1138)--(125,1138)}
\wi{(143,1019)--(143,972)--(937,972) (196,1019)--(196,996)--(1061,996)}\arr{836}{972}{180}\dt{937}{972}\dt{1061}{996}
\wi{(937,1467)--(937,688)--(990,688) (937,877)--(990,877)}\arr{957}{688}{0}\dt{937}{877}\arr{965}{877}{0}\arr{937}{1392}{90}
\wi{(1078,712)--(1096,712)--(1096,1019)--(1061,1019) (1061,925)--(1061,1467)}\dt{1061}{1019}
\wi{(1043,736)--(1043,783)--(1255,783)--(1255,1540)}
\wi{(1078,877)--(1131,877) (1167,830)--(1167,736) (1167,1019)--(1167,925) (1237,1043)--(1308,1043)--(1308,736)}\arr{1113}{877}{0}\arr{1167}{760}{90}\arr{1167}{948}{90}\arr{1308}{768}{90}
\wi{(1467,665)--(1537,665) (1467,712)--(1537,712) (1449,736)--(1449,783)--(1537,783)}
\wi{(1467,169)--(1502,169)--(1502,1162)--(1537,1162)}
\wi{(1467,1019)--(1537,1019) (1467,1066)--(1537,1066) (1467,1114)--(1537,1114) (1467,430)--(1537,430) (1467,475)--(1537,475)}
\wi{(460,877)--(514,877) (619,877)--(672,877) (778,877)--(813,877)--(813,1043)}\arr{478}{877}{0}\arr{647}{877}{0}\arr{805}{877}{0}
\wi{(778,1066)--(460,1066)--(460,1467) (460,1326)--(514,1326) (778,1138)--(443,1138)--(443,1373)}\dt{460}{1326}\dt{443}{1373}
\wi{(390,1467)--(390,1373)--(514,1373)}
\wi{(884,1066)--(1096,1066)--(1096,1302)--(1537,1302) (884,1138)--(1078,1138)--(1078,1373)--(1537,1373)}\arr{1117}{1302}{0}\arr{1117}{1373}{0}
\wi{(584,1350)--(602,1350)--(602,1467) (549,1397)--(549,1420) (425,1467)--(425,1420)--(866,1420)--(866,1397)}\dt{549}{1420}
\wi{(831,1326)--(813,1326)--(813,1467) (831,1373)--(690,1373)--(690,1467)}
\wi{(902,1350)--(1008,1350)--(1008,1467)}\arr{1008}{1390}{-90}
\wi{(1149,1138)--(1149,1467) (1219,1138)--(1219,1467)}\arr{1149}{1392}{90}
\wi{(0,145)--(125,145) (0,215)--(125,215) (90,215)--(90,333)--(125,333) (0,358)--(72,358)--(72,430)--(125,430) (0,477)--(125,477)}\dt{90}{215}
\bx{125}{122}{230}{238}\bx{125}{287}{218}{358}\bx{125}{405}{213}{547}\bx{125}{642}{248}{783}\bx{125}{830}{195}{925}
\bx{354}{642}{425}{783}\bx{354}{830}{460}{925}\bx{514}{830}{619}{925}\bx{672}{830}{778}{925}
\bx{125}{1019}{213}{1162}\bx{354}{1055}{425}{1162}\bx{125}{1255}{230}{1397}
\bx{283}{122}{602}{358}\bx{672}{122}{743}{216}\bx{831}{122}{990}{263}\bx{1061}{122}{1166}{216}\bx{1237}{122}{1308}{216}\bx{1378}{122}{1467}{216}
\bx{1237}{405}{1308}{500}\bx{1378}{405}{1467}{500}\bx{990}{452}{1078}{500}
\bx{990}{642}{1078}{736}\bx{1131}{642}{1219}{736}\bx{1290}{642}{1467}{736}\bx{990}{830}{1078}{925}\bx{1131}{830}{1219}{925}
\bx{1131}{1019}{1237}{1138}\bx{1325}{996}{1467}{1138}\bx{778}{1043}{884}{1162}\bx{514}{1303}{584}{1397}\bx{831}{1303}{902}{1397}
\tn{(130,180)--(150,158)--(150,202)--cycle (203,180)--(222,158)--(222,202)--cycle}
\txb{178}{185}{DAC}
\tn{(140,322)--(160,322) (160,322)--(185,310) (190,325)--(205,325)}\dt{160}{322}
\tn{(218,316)--(248,316) (237,316)--(237,345)}\arr{240}{316}{180}\bx{228}{345}{245}{360}\txb{253}{290}{AM}
\tn{(1000,475)--(1030,475)--(1055,462) (1055,475)--(1070,475)}
\crs{178}{668}\crs{170}{1290}\crs{826}{1070}
\tn{(538,1328)--(538,1372)--(566,1350)--cycle (857,1328)--(857,1372)--(884,1350)--cycle}
\txb{168}{447}{FM}\txb{168}{490}{AGC}\txb{187}{714}{1st FM}\txb{187}{750}{I/Q-MIXER}
\txb{388}{680}{N1}\txb{390}{716}{:2}\txb{395}{750}{90°}\txb{168}{880}{90°}
\txb{407}{868}{AM-NOISE}\txb{407}{897}{DETECTOR}\txb{566}{868}{PEAK/}\txb{563}{897}{AVERAGE}\txb{725}{868}{BLANK}\txb{725}{897}{PULSE}
\txb{168}{1073}{AM}\txb{170}{1108}{RF AGC}\txb{388}{1080}{N2}\txb{390}{1127}{:5/10}\txb{170}{1330}{1st AM}\txb{170}{1368}{MIXER}
\txb{423}{210}{TUNING SYSTEM}\txb{566}{288}{10.25}\txb{565}{317}{MHz}\txb{708}{171}{VCO}
\txb{910}{148}{SEQUENTIAL}\txb{912}{175}{CIRCUIT FOR}\txb{910}{206}{RDS}\txb{910}{234}{UPDATING}
\txb{1113}{152}{AM}\txb{1113}{188}{DETECTOR}\txb{1272}{171}{MUTE}\txb{1424}{152}{POWER}\txb{1424}{186}{SUPPLY}
\txb{1272}{445}{IF}\txb{1272}{472}{COUNT}\txb{1422}{453}{I²C-BUS}
\txb{1033}{668}{AM}\txb{1036}{703}{IF AGC}\txb{1170}{672}{LEVEL}\txb{1165}{706}{DAA}\txb{1378}{694}{DEMODULATOR}
\txb{1030}{860}{AM}\txb{1033}{897}{LEVEL}\txb{1180}{1037}{FM}\txb{1185}{1072}{LIMITER/}\txb{1187}{1107}{LEVEL}
\txb{1395}{1050}{CRYSTAL}\txb{1395}{1085}{OSCILLATOR}\txb{828}{1105}{2nd AM}\txb{830}{1140}{MIXER}
\ift{\node[inner sep=0pt,font=\fontsize{22}{22}\selectfont] at (1170,877) {Σ};}
\ift{\node[inner sep=0pt,font=\fontsize{18}{18}\selectfont,text=black!75] at (605,590) {D100};}
\ift{\node[inner sep=0pt,font=\fontsize{18}{18}\selectfont,text=black!75] at (602,650) {TEA6845H};}
\txa{1195}{408}{FM IF}\txa{1200}{455}{AM IF2}\txa{938}{465}{f2C}\txa{1468}{538}{IF 2 Gnd}\txa{1477}{771}{AFC}\txa{1440}{890}{AM/FM LEVEL}\txa{98}{1184}{WBFlag}\txa{902}{1412}{F1}\txa{902}{1437}{Gnd}
\ift{\node[laba,rotate=90] at (555,88) {O Gnd};}
\end{scope}

%================ Z7
\begin{scope}[xshift=940pt,yshift=-740pt,x=.44643pt,y=-.33333pt]
\bx{87}{264}{195}{335}\tx{142}{297}{U8}\wi{(195,299)--(1568,299)}
\rh{264}{299}\tx{266}{226}{R612}\tx{266}{265}{390}
\dt{317}{299}\wi{(317,299)--(317,537)}\rv{317}{441}\gh{317}{537}\tx{363}{415}{R613}\tx{358}{462}{1,5K}
\dt{423}{299}\wi{(423,299)--(423,537)}\cv{423}{441}\gh{423}{537}\tx{480}{411}{C613}\tx{477}{462}{0,1U}
\ds{458}{252}{670}{347}\dd{513}{299}{0}\dd{613}{299}{0}\tx{566}{186}{V620}\tx{566}{229}{1SV172}
\wi{(564,299)--(564,1435)}\ifp{\fill[black] (564,299) circle[radius=2pt];}
\cv{564}{535}\tx{621}{506}{C606}\tx{617}{557}{0,1U}\rv{564}{1315}\gh{564}{1435}\dt{564}{1221}\tx{608}{1290}{R602}\tx{606}{1337}{270K}
\wi{(633,418)--(1165,418)}\gv{633}{418}\ch{703}{418}\tx{706}{331}{C611}\tx{709}{372}{0,1U}
\dt{777}{418}\wi{(777,418)--(777,1152)}\rv{777}{513}\gh{777}{1152}\tx{732}{486}{R603}\tx{738}{533}{2,2K}
\dt{777}{985}\wi{(688,1152)--(688,985)--(900,985)}\gh{688}{1152}\cv{688}{1057}\tx{632}{1025}{C605}\tx{638}{1077}{0,1U}\rv{777}{1055}\tx{732}{1029}{R604}\tx{738}{1077}{5,6K}
\dt{828}{299}\wi{(828,299)--(828,182)--(972,182)}\ch{900}{182}\gv{972}{182}\tx{901}{95}{C614}\tx{903}{135}{0,1U}
\dt{1006}{299}\wi{(1006,130)--(1006,299) (1006,182)--(1165,182)}\dt{1006}{182}\rh{1075}{182}\bx{1165}{146}{1271}{217}\tx{1219}{178}{U8}
\dm{1006}{110}{180}\tx{997}{65}{MP600}\tx{1077}{107}{R610}\tx{1077}{147}{1M}
\rh{1075}{299}\tx{1077}{227}{R608}\tx{1077}{265}{10}
\rh{1075}{418}\tx{1077}{344}{R607}\tx{1077}{383}{10}\bx{1165}{382}{1271}{453}\tx{1218}{416}{U82}
\dt{935}{418}\dt{1023}{418}\wi{(935,418)--(935,932) (1023,418)--(1023,820) (935,606)--(1568,606)}
\lr{935}{513}\tx{887}{497}{L603}\tx{876}{533}{560UH}\rv{1023}{513}\tx{980}{486}{R605}\tx{990}{533}{470}
\dt{935}{606}\dt{1023}{606}\ch{1075}{606}\tx{1077}{521}{C608}\tx{1080}{561}{1,5N}
\lh{1183}{606}\tx{1184}{521}{L604}\tx{1184}{565}{68UH}
\dt{1253}{606}\wi{(1253,606)--(1253,820)}\lr{1253}{705}\gh{1253}{820}\tx{1205}{687}{L605}\tx{1195}{722}{560UH}
\dt{1305}{606}\wi{(1305,606)--(1305,820)}\cv{1305}{702}\gh{1305}{820}\tx{1362}{670}{C609}\tx{1354}{722}{330}
\lh{1376}{606}\tx{1378}{521}{L606}\tx{1378}{565}{68UH}
\dt{1447}{606}\wi{(1447,606)--(1447,820)}\cv{1447}{702}\gh{1447}{820}\tx{1504}{670}{C610}\tx{1496}{722}{180}
\rh{1500}{606}\tx{1500}{533}{R609}\tx{1502}{573}{0}
\rv{935}{697}\tx{980}{675}{R614}\tx{955}{722}{0}\cv{1023}{702}\gh{1023}{820}\tx{1080}{670}{C607}\tx{1072}{722}{180}
\ifp{\draw[black,line width=2.6pt] (830,888) rectangle (988,1272);}\tx{1048}{908}{V600}\tx{1056}{960}{HN3C01J}
\qc{920}{985}\tk{(900,950)--(900,1020)}\wi{(903,965)--(935,932) (903,1005)--(935,1035)--(935,1079)--(1006,1079) (961,1079)--(961,1175)--(905,1175)}\arw{(903,1005)}{(928,1029)}
\ifp{\fill[black] (961,1079) circle[radius=2pt];}
\qc{908}{1197}\tk{(903,1147)--(903,1235)}\arr{890}{1221}{0}
\wi{(0,1221)--(1130,1221)--(1130,1435) (1041,1221)--(1041,1435)}\dt{1041}{1221}\lv{1041}{1320}\gh{1041}{1435}\rv{1130}{1315}\gh{1130}{1435}
\tx{1088}{1300}{L611}\tx{1085}{1337}{1UH}\tx{1172}{1290}{R611}\tx{1160}{1337}{1K}
\wi{(423,749)--(423,1435)}\rv{423}{843}\bx{371}{677}{476}{749}\tx{425}{711}{U8}\tx{380}{817}{R600}\tx{380}{863}{100K}
\dt{423}{938}\wi{(423,938)--(548,938)}\ch{476}{938}\gv{548}{938}\tx{478}{852}{C600}\tx{480}{892}{0,1U}
\dd{423}{1044}{90}\tx{483}{1018}{V602}\tx{493}{1062}{S247Z}
\dt{423}{1221}\rv{423}{1315}\gh{423}{1435}\tx{467}{1290}{R601}\tx{467}{1337}{270K}
\rh{70}{1221}\tx{72}{1147}{R615}\tx{72}{1188}{0}\dt{229}{1221}\ch{283}{1221}\tx{284}{1137}{C603}\tx{285}{1175}{0,1U}\ch{511}{1221}\tx{512}{1137}{C604}\tx{514}{1175}{1N}
\wi{(0,465)--(229,465)--(229,1221)}\lv{229}{1055}\tx{278}{1042}{L600}\tx{285}{1077}{3,9UH}
\end{scope}

%================ Z6
\begin{scope}[xshift=1600pt,yshift=-980pt,x=.44643pt,y=-.33333pt]
\wi{(322,27)--(322,290) (180,0)--(180,75)--(322,75)}\dt{322}{75}\cv{322}{194}\gh{322}{290}\tx{268}{164}{C620}\tx{272}{214}{0,1U}
\wi{(375,27)--(375,358) (375,75)--(410,75)--(410,313)}\dt{375}{75}\rv{375}{194}\cv{410}{194}\gh{410}{313}\dt{375}{358}
\txr{362}{148}{22}\txr{397}{130}{22N}\txr{362}{258}{R80}\txr{397}{255}{C80}
\wi{(127,667)--(128,358)--(658,358)--(658,98)--(604,98)}\dt{127}{667}
\wi{(445,27)--(445,407)--(287,407)--(287,619)--(352,619)--(352,597)--(380,597) (392,597)--(418,597)--(418,619)--(480,619) (480,27)--(480,619)}
\tn{(380,587)--(380,607) (392,587)--(392,607)}
\wi{(287,525)--(480,525)}\dt{287}{525}\dt{480}{525}\ch{392}{525}\tx{394}{438}{C100}\tx{395}{480}{10}\xm{448}{435}
\ds{321}{572}{445}{785}\lh{385}{635}\lhi{385}{678}\tn{(355,720)--(415,610)}
\txr{335}{610}{1}\txr{433}{610}{3}\txr{335}{655}{2}\txr{433}{675}{4}\txr{335}{702}{6}\txr{360}{775}{7}\txr{405}{775}{8}
\shh{342}{730}{425}{758}\wi{(375,758)--(375,808)--(392,808) (392,758)--(392,858)}\dt{392}{808}\gh{392}{858}\tx{337}{815}{Z100}\tx{316}{868}{10,7MHZ}
\bx{0}{631}{93}{703}\tx{42}{663}{U8}\wi{(93,667)--(285,667)}\rh{180}{667}\tx{180}{593}{R102}\tx{182}{633}{22}
\dt{233}{667}\wi{(233,667)--(233,858)}\cv{233}{762}\gh{233}{858}\tx{178}{732}{C102}\tx{190}{782}{22N}
\tk{(285,667)--(285,715)}\wi{(285,690)--(352,690) (418,690)--(720,690)}
\rh{534}{690}\tx{534}{615}{R103}\tx{534}{657}{270}\dt{586}{690}\rh{639}{690}\tx{640}{615}{R100}\tx{640}{657}{82}
\wi{(586,690)--(586,858)}\rv{586}{760}\gh{586}{858}\tx{631}{734}{R101}\tx{622}{782}{390}
\xt{745}{690}\tx{746}{597}{Z101}\tx{750}{640}{10,7MHZ}\txp{702}{672}{IN}\txp{801}{672}{OUT}\txp{775}{748}{GND}
\wi{(768,690)--(835,690)--(835,548)--(692,548)--(692,75)--(638,75)--(638,27) (745,722)--(745,810)}\gh{745}{810}\tn{(735,722)--(755,722)}
\wi{(568,27)--(568,75)--(551,75)--(551,313)}\cv{551}{194}\gh{551}{313}\txr{538}{135}{22N}\txr{538}{258}{C103}
\wi{(604,27)--(604,313)}\dt{604}{98}\cv{604}{194}\gh{604}{313}\txr{590}{135}{22N}\txr{590}{258}{C104}
\rv{658}{194}\txr{645}{145}{10}\txr{645}{258}{R104}
\wi{(781,27)--(781,430)--(880,430) (781,194)--(816,194)--(816,360)}\rv{781}{122}\tx{736}{95}{R111}\tx{747}{143}{100}\dt{781}{194}\rv{816}{264}\gh{816}{360}\rv{781}{360}
\tx{737}{240}{R112}\tx{747}{287}{470}\tx{737}{333}{R113}\tx{747}{380}{100}
\xt{905}{430}\tx{906}{338}{Z102}\tx{908}{380}{10,7MHZ}\txp{862}{413}{IN}\txp{960}{413}{OUT}\txp{933}{488}{GND}
\wi{(930,430)--(992,430)--(992,27) (905,462)--(905,550)}\gh{905}{550}\tn{(895,462)--(915,462)}
\wi{(869,27)--(869,75)--(886,75)--(886,313)}\cv{886}{194}\gh{886}{313}\txr{872}{135}{22N}\txr{872}{258}{C105}
\wi{(957,27)--(957,313)}\cv{957}{194}\gh{957}{313}\txr{943}{132}{0,22U}\txr{943}{258}{C106}
\wi{(1063,27)--(1063,100)}\gh{1063}{100}
\wi{(1115,27)--(1115,548)--(1380,548)}
\wi{(1151,27)--(1151,313) (1151,75)--(1098,75)--(1098,572)}\dt{1151}{75}\rv{1098}{194}\cv{1151}{194}\gh{1151}{313}
\txr{1086}{135}{68K}\txr{1086}{258}{R652}\txr{1136}{135}{22N}\txr{1136}{258}{C652}
\bx{1072}{572}{1126}{715}\txr{1098}{642}{U52}
\wi{(1187,27)--(1187,407)--(1215,407) (1265,407)--(1328,407)--(1328,27) (1328,289)--(1363,289)--(1363,98)--(1398,98) (1240,438)--(1240,526)}\dt{1328}{289}
\xt{1240}{407}\tx{1243}{315}{Z103}\tx{1243}{357}{10,7MHZ}\txp{1196}{390}{IN}\txp{1295}{390}{OUT}\txp{1268}{465}{GND}\gh{1240}{526}\tn{(1230,438)--(1250,438)}
\rv{1363}{170}\txr{1350}{115}{330}\txr{1350}{235}{R109}
\wi{(1240,27)--(1240,267)}\cv{1240}{170}\gh{1240}{267}\tx{1295}{140}{C653}\tx{1288}{190}{22N}
\wi{(1398,27)--(1398,267)}\dt{1398}{98}\cv{1398}{170}\gh{1398}{267}\tx{1453}{140}{C109}\tx{1446}{190}{22N}
\wi{(1434,27)--(1434,98)--(1568,98)}
\bx{1392}{535}{1446}{568}\tn{(1380,535)--(1380,568) (1452,535)--(1452,568)}
\tx{1418}{455}{Z651}\tx{1418}{497}{450KHZ}\txp{1358}{530}{OUT}\txp{1465}{530}{IN}\txp{1370}{598}{GND}
\wi{(1452,548)--(1503,548)--(1503,194)}
\tn{(1388,582)--(1443,582)}
\wi{(1398,582)--(1398,643)--(1433,643)--(1433,582) (1416,582)--(1416,692)}\dt{1416}{643}\gh{1416}{692}
\txp{305}{50}{19}\txp{360}{50}{18}\txp{428}{50}{17}\txp{464}{50}{16}\txp{552}{50}{15}\txp{588}{50}{14}\txp{622}{50}{13}\txp{764}{50}{12}\txp{850}{50}{11}\txp{940}{50}{10}\txp{985}{50}{9}\txp{1056}{50}{8}\txp{1108}{50}{7}\txp{1143}{50}{6}\txp{1180}{50}{5}\txp{1232}{50}{4}\txp{1320}{50}{3}\txp{1390}{50}{2}\txp{1424}{50}{1}
\end{scope}

%================ Z5
\begin{scope}[xshift=2250pt,yshift=-580pt,x=.33333pt,y=-.40816pt]
\wi{(255,155)--(632,155)--(632,0) (255,192)--(727,192)--(727,0)}
\rh{490}{153}\tx{437}{135}{R92}\tx{548}{135}{100}\rh{490}{192}\tx{437}{175}{R91}\tx{548}{175}{100}
\dt{632}{173}\wi{(632,173)--(693,173) (632,173)--(608,173)--(608,232)--(625,232)--(625,260) (640,232)--(640,260)}\gv{693}{173}
\ds{537}{232}{655}{366}\lv{561}{300}\tn{(545,335)--(595,270)}\shv{616}{260}{640}{350}
\txp{582}{243}{3}\txp{612}{243}{7}\txp{648}{243}{8}\txp{578}{348}{1}
\wi{(255,346)--(467,346)--(467,212)--(940,212)--(940,385) (255,385)--(940,385) (561,212)--(561,385) (845,212)--(845,385)}
\dt{561}{212}\dt{845}{212}\dt{561}{385}\dt{845}{385}\cv{845}{287}\rv{940}{308}
\tx{898}{245}{C110}\tx{873}{325}{68}\tx{715}{264}{L110}\tx{727}{302}{2,2UH}\tx{995}{286}{R110}\tx{993}{325}{4,7K}
\wi{(1035,0)--(1035,540)--(347,540)}
\wi{(347,248)--(420,248)}\gv{420}{248}
\wi{(347,443)--(634,443) (420,443)--(420,480)}\dt{420}{443}\eh{535}{443}\gv{634}{443}\tx{655}{485}{C111}\tx{658}{520}{47U}
\dm{420}{502}{0}\tx{493}{498}{MP57}
\wi{(255,636)--(512,636) (563,636)--(632,636)--(632,713)--(255,713) (255,675)--(420,675)}\gv{420}{675}
\bx{525}{618}{550}{656}\tn{(512,618)--(512,656) (563,618)--(563,656)}\tx{541}{565}{Z700}\tx{541}{595}{20,5MHZ}
\wi{(347,752)--(682,752) (420,752)--(420,810)--(682,810)}\dt{420}{752}\ch{536}{752}\gv{682}{752}\rh{538}{810}\gv{682}{810}
\tx{485}{733}{C90}\tx{610}{733}{0,22U}\tx{485}{793}{R90}\tx{605}{793}{120K}
\wi{(347,868)--(775,868)--(775,1446)--(419,1446)--(419,926)--(347,926)}
\wi{(0,868)--(347,868) (0,926)--(347,926)}
\gh{561}{1001}\wi{(561,1001)--(561,1062) (561,1042)--(583,1042)--(583,1062)}\dt{561}{1042}
\ds{489}{1062}{656}{1235}\shh{517}{1088}{628}{1105}
\lh{570}{1142}\lhi{570}{1170}\tn{(525,1120)--(625,1220)}
\wi{(419,1196)--(530,1196)--(530,1217)--(566,1217) (578,1217)--(612,1217)--(612,1196)--(775,1196)}\tn{(566,1207)--(566,1228) (578,1207)--(578,1228)}
\dt{419}{1196}\dt{775}{1196}
\wi{(610,1140)--(705,1140)}\gv{705}{1140}\tx{663}{998}{Z650}\tx{686}{1033}{450KHZ}
\wi{(65,1140)--(530,1140)}\rh{183}{1138}\tx{120}{1122}{R651}\tx{245}{1122}{1,2K}
\dt{302}{1158}\wi{(183,1447)--(183,1158)--(530,1158) (302,1158)--(302,1313)}\rv{183}{1235}\bx{148}{1447}{218}{1565}\txr{183}{1505}{U8}
\cv{302}{1235}\gh{302}{1313}\tx{243}{1213}{R650}\tx{220}{1253}{22}\tx{375}{1210}{C650}\tx{367}{1252}{22N}
\wi{(419,1331)--(775,1331)}\dt{419}{1331}\dt{775}{1331}\ch{560}{1331}\tx{562}{1262}{C655}\tx{564}{1293}{150}\xm{636}{1276}
\rh{560}{1446}\tx{562}{1387}{R655}\tx{562}{1417}{47K}\xm{636}{1374}
\wi{(150,1062)--(280,1062)}\eh{178}{1062}\gv{280}{1062}\tx{113}{1042}{C654}\tx{235}{1042}{10U}
\txp{372}{133}{52}\txp{372}{172}{53}\txp{372}{230}{54}\txp{372}{325}{55}\txp{372}{365}{56}\txp{372}{423}{57}\txp{372}{518}{58}\txp{372}{615}{59}\txp{372}{654}{60}\txp{372}{692}{61}\txp{372}{732}{62}\txp{372}{847}{63}\txp{372}{905}{64}
\end{scope}

%================ Z8
\begin{scope}[xshift=0pt,yshift=-1070pt,x=.40816pt,y=-.33333pt]
\wi{(757,1170)--(757,400) (757,298)--(757,231)--(1568,231)}
\rh{1145}{231}\rh{1433}{231}\tx{1147}{157}{R2082}\tx{1147}{197}{4,7}\tx{1436}{157}{R2080}\tx{1436}{197}{4,7}
\qc{775}{350}\tk{(795,312)--(795,388)}\wi{(795,350)--(1357,350)--(1357,985)}\arw{(795,322)}{(768,305)}\tn{(768,305)--(757,298)}\tn{(795,375)--(757,400)}
\tx{853}{276}{V2065}\tx{875}{320}{FMMT493}
\wi{(295,1465)--(295,350)--(527,350)}\dt{410}{350}\dt{527}{350}
\wi{(410,232)--(410,820) (527,232)--(527,515)}\rv{410}{278}\rv{527}{278}\tx{468}{252}{R2048}\tx{432}{300}{0}\tx{583}{252}{R2049}\tx{549}{300}{0}
\rv{410}{420}\rv{527}{420}\tx{468}{393}{R2070}\tx{432}{442}{0}\tx{585}{393}{R2073}\tx{567}{442}{N.B.}
\rv{295}{420}\tx{352}{393}{R8270}\tx{335}{442}{22K}
\dt{295}{515}\dt{410}{515}\dt{527}{515}\dt{757}{515}\wi{(410,515)--(757,515)}\rh{700}{515}\tx{702}{441}{R2071}\tx{703}{481}{4,7}
\wi{(140,515)--(295,515)}\gv{140}{515}\ch{222}{515}\tx{220}{430}{C8270}\tx{222}{470}{10N}
\wi{(140,680)--(295,680)}\gv{140}{680}\dd{218}{680}{0}\dt{295}{680}\tx{217}{564}{V8270}\tx{220}{600}{BZX84}\tx{217}{635}{C18}
\rv{295}{775}\tx{350}{748}{R8271}\tx{344}{797}{180K}
\wi{(140,870)--(295,870)}\gv{140}{870}\rh{218}{870}\dt{295}{870}\tx{220}{796}{R8272}\tx{220}{836}{75K}
\wi{(140,988)--(295,988)}\gv{140}{988}\ch{222}{988}\dt{295}{988}\tx{220}{902}{C8272}\tx{222}{942}{1N}
\dm{295}{1487}{0}\tx{282}{1533}{MP\_U14\_DIAG}
\wi{(410,609)--(910,609) (993,609)--(1357,609)}\dt{410}{609}\dt{527}{609}\dt{875}{609}\dt{1030}{609}\dt{1067}{609}\dt{1221}{609}\dt{1357}{609}
\wi{(527,609)--(527,800)}\ev{527}{700}\gh{527}{800}\tx{597}{675}{C2093}\tx{580}{725}{22U}
\rv{410}{703}\tx{468}{677}{R2084}\tx{440}{725}{33}
\qc{427}{870}\tk{(447,822)--(447,918)}\arw{(447,838)}{(420,826)}\tn{(420,826)--(410,820)}\wi{(447,870)--(757,870) (447,895)--(410,920)--(410,1415)}\dt{757}{870}\tx{508}{890}{V2066}\tx{522}{930}{BC858B}\gh{410}{1415}
\rv{757}{703}\tx{815}{677}{R2092}\tx{803}{725}{2,2K}\rv{757}{963}\tx{815}{937}{R2069}\tx{790}{985}{1K}
\wi{(875,444)--(875,820)--(1030,820)--(1030,609) (875,444)--(1510,444)}\rv{875}{515}\dt{951}{444}\tx{818}{488}{R2086}\tx{825}{536}{470K}\rh{1433}{444}\tx{1436}{370}{R2094}\tx{1436}{410}{68K}
\qc{951}{590}\tk{(920,565)--(982,565)}\wi{(951,444)--(951,565) (970,565)--(993,609) (930,565)--(910,609)}\arr{916}{597}{65}
\tx{951}{660}{V2084}\tx{955}{698}{BC858B}\tx{951}{748}{R2081}\tx{955}{790}{0}\rh{951}{822}
\rh{1145}{609}\tx{1147}{536}{R2072}\tx{1147}{575}{820}
\wi{(1067,609)--(1067,800)}\rv{1067}{703}\gh{1067}{800}\tx{1125}{677}{R2079}\tx{1107}{725}{15K}
\wi{(1221,609)--(1221,800)}\ev{1221}{700}\gh{1221}{800}\tx{1268}{675}{C2092}\tx{1275}{725}{22U}
\rv{1357}{703}\tx{1415}{677}{R2087}\tx{1387}{725}{27}
\wi{(410,1035)--(1325,1035)}\dt{410}{1035}\dt{932}{1035}\rh{604}{1035}\tx{605}{962}{R2088}\tx{607}{1002}{4,7K}
\wi{(932,1035)--(932,1225)}\rv{932}{1130}\gh{932}{1225}\tx{988}{1103}{R2099}\tx{977}{1150}{4,7K}
\qc{1340}{1035}\tk{(1325,992)--(1325,1078)}\wi{(1325,1005)--(1357,985) (1357,1085)--(1357,1225)}\arw{(1325,1060)}{(1350,1080)}\tn{(1350,1080)--(1357,1085)}\gh{1357}{1225}\tx{1433}{1008}{V2064}\tx{1447}{1052}{BC848C}
\rv{410}{1130}\tx{468}{1103}{R2097}\tx{450}{1150}{10K}\dt{410}{1224}\wi{(410,1224)--(722,1224)}\dt{527}{1224}\rh{604}{1224}\tx{613}{1140}{R2098}\tx{606}{1186}{1K}
\wi{(527,1224)--(527,1415)}\cv{527}{1318}\gh{527}{1415}\tx{597}{1288}{C2094}\tx{572}{1338}{1U}\rv{410}{1318}\tx{468}{1292}{R2093}\tx{450}{1338}{10K}
\qc{742}{1224}\tk{(722,1180)--(722,1268)}\wi{(722,1200)--(757,1172) (757,1275)--(757,1410)}\arw{(722,1250)}{(750,1270)}\tn{(750,1270)--(757,1275)}\tx{836}{1175}{V2063}\tx{850}{1218}{BC848C}
\dt{757}{1365}\wi{(757,1365)--(915,1365)}\rh{835}{1365}\gv{915}{1365}\tx{838}{1292}{R2012}\tx{838}{1332}{0}
\qc{775}{1460}\tk{(797,1420)--(797,1500)}\wi{(795,1430)--(757,1410) (797,1460)--(1568,1460)}\arw{(795,1490)}{(768,1505)}\tn{(768,1505)--(757,1510)}
\tx{680}{1435}{V2095}\tx{672}{1478}{BC848C}\dt{932}{1460}\rh{1008}{1460}\tx{1013}{1387}{R2090}\tx{1012}{1427}{8,2K}
\end{scope}

%================ Z12
\begin{scope}[xshift=0pt,yshift=-1440pt,x=.51020pt,y=-.33333pt]
\wi{(607,400)--(607,541) (745,350)--(745,541)}\gh{607}{541}\rv{745}{445}\gh{745}{541}\tx{790}{418}{R2091}\tx{780}{465}{3,9K}
\ift{\node[inner sep=0pt,font=\fontsize{30}{30}\selectfont,text=black!55] at (1117,532) {PHANTOMSPEISUNG};}
\ift{\node[inner sep=0pt,font=\fontsize{27.5}{28}\selectfont,text=black!55] at (1040,690) {nicht bestueckt};}
\ift{\node[inner sep=0pt,font=\slab\bfseries\fontsize{19}{19}\selectfont] at (245,497) {proc};}
\end{scope}

%================ Z9
\begin{scope}[xshift=480pt,yshift=-1070pt,x=.38265pt,y=-.33333pt]
\wi{(418,231)--(1470,231)}
\dt{604}{231}\wi{(604,231)--(604,422)}\ev{604}{322}\gh{604}{422}\tx{532}{296}{C2063}\tx{552}{345}{47U}
\dt{748}{231}\wi{(748,231)--(748,1342)--(1060,1342)}\rv{748}{325}\tx{690}{300}{R8280}\tx{708}{347}{22K}
\dt{748}{420}\dt{748}{586}\dt{748}{822}\dt{748}{940}
\wi{(748,420)--(916,420)}\ch{830}{420}\gv{916}{420}\tx{835}{335}{C8280}\tx{835}{375}{10N}
\wi{(748,586)--(916,586)}\gv{916}{586}\dd{833}{586}{180}\tx{832}{468}{V8280}\tx{835}{503}{BZX84}\tx{832}{540}{C18}
\rv{748}{680}\tx{808}{653}{R8281}\tx{800}{702}{200K}
\wi{(748,822)--(916,822)}\rh{830}{822}\gv{916}{822}\tx{835}{748}{R8282}\tx{835}{788}{75K}
\wi{(748,940)--(916,940)}\ch{830}{940}\gv{916}{940}\tx{835}{855}{C8282}\tx{835}{895}{1N}
\dt{1017}{231}\wi{(1017,231)--(1017,445)}\cv{1017}{325}\gh{1017}{445}\tx{1083}{296}{C630}\tx{1075}{345}{47N}
\lh{1118}{231}\tx{1122}{145}{L630}\tx{1122}{189}{10MH}
\wi{(357,444)--(357,535)}
\qc{375}{585}\tk{(397,540)--(397,630)}\wi{(397,560)--(357,535) (397,586)--(604,586)--(604,1460) (357,635)--(357,800)}\arw{(397,610)}{(365,630)}\gh{357}{800}
\dt{481}{586}\wi{(481,586)--(481,800)}\rv{481}{680}\gh{481}{800}\tx{541}{653}{R2096}\tx{522}{702}{22K}\rv{604}{680}\tx{665}{653}{R2095}\tx{647}{702}{47K}
\tx{275}{560}{V2096}\tx{265}{603}{BC848B}
\wi{(418,1460)--(1060,1460)}\dt{604}{1460}
\dm{1078}{1342}{90}\tx{1195}{1338}{MP\_PH\_DIAG}\dm{1078}{1460}{90}\tx{1183}{1458}{MP\_PH\_ON}
\ift{\node[inner sep=0pt,font=\slab\bfseries\fontsize{19}{19}\selectfont] at (1213,1395) {proc};}
\end{scope}

%================ Z10
\begin{scope}[xshift=1800pt,yshift=-1560pt,x=.53380pt,y=-.33333pt]
\ifp{\draw[black,line width=2.4pt] (155,145) rectangle (212,222);}\wi{(93,183)--(155,183)}\gv{93}{183}\txp{168}{177}{1}\txq{187}{105}{X2}
\ifp{\draw[black,line width=2.4pt] (155,333) rectangle (212,410);}\wi{(93,372)--(155,372)}\gv{93}{372}\txp{168}{367}{1}\txq{187}{303}{X1}
\wi{(316,253)--(316,350) (420,253)--(420,350)}\ifp{\draw[ink,line width=1pt] (316,238) circle[radius=5pt] (420,238) circle[radius=5pt];}\gh{316}{350}\gh{420}{350}\txq{316}{190}{FR2001}\txq{420}{190}{FR2002}
\bx{537}{130}{600}{235}\bx{537}{323}{600}{425}\txq{575}{113}{PK180}\txq{568}{302}{PK4U}\txq{570}{172}{.1}\txq{570}{362}{.1}
\end{scope}
}
\begin{document}
\begin{tikzpicture}[x=1pt,y=-1pt]
\useasboundingbox (0,0) rectangle (2637,1742);
\fill[white] (0,0) rectangle (2637,1742);
\fill[black!90] (0,7) rectangle (2637,14);
\fill[black!90] (0,1737) rectangle (2637,1742);
\draw[black!90,line width=6pt] (2225,1742)--(2225,1661)--(2637,1661);
\node[big] (pl) at (2441,1703) {PL 4604 D06};
\node[big] (hp) at (1401,1405) {HAUPTPLATTE};
\node[big] (mb) at (1401,1472) {MAIN BOARD};
\node[big] (tu) at (1403,1606) {Tuner};
\node[big] (nc) at (1403,1670) {NICE / CASP};
\node[inner sep=0pt,font=\fontsize{25}{25}\selectfont,text=black!60] (nb) at (2314,1640) {\raisebox{-5pt}{*} nicht bestueckt};
\def\PASS{1}\Body
\def\PASS{2}\Body
\def\PASS{3}\Body
\end{tikzpicture}
\end{document}
